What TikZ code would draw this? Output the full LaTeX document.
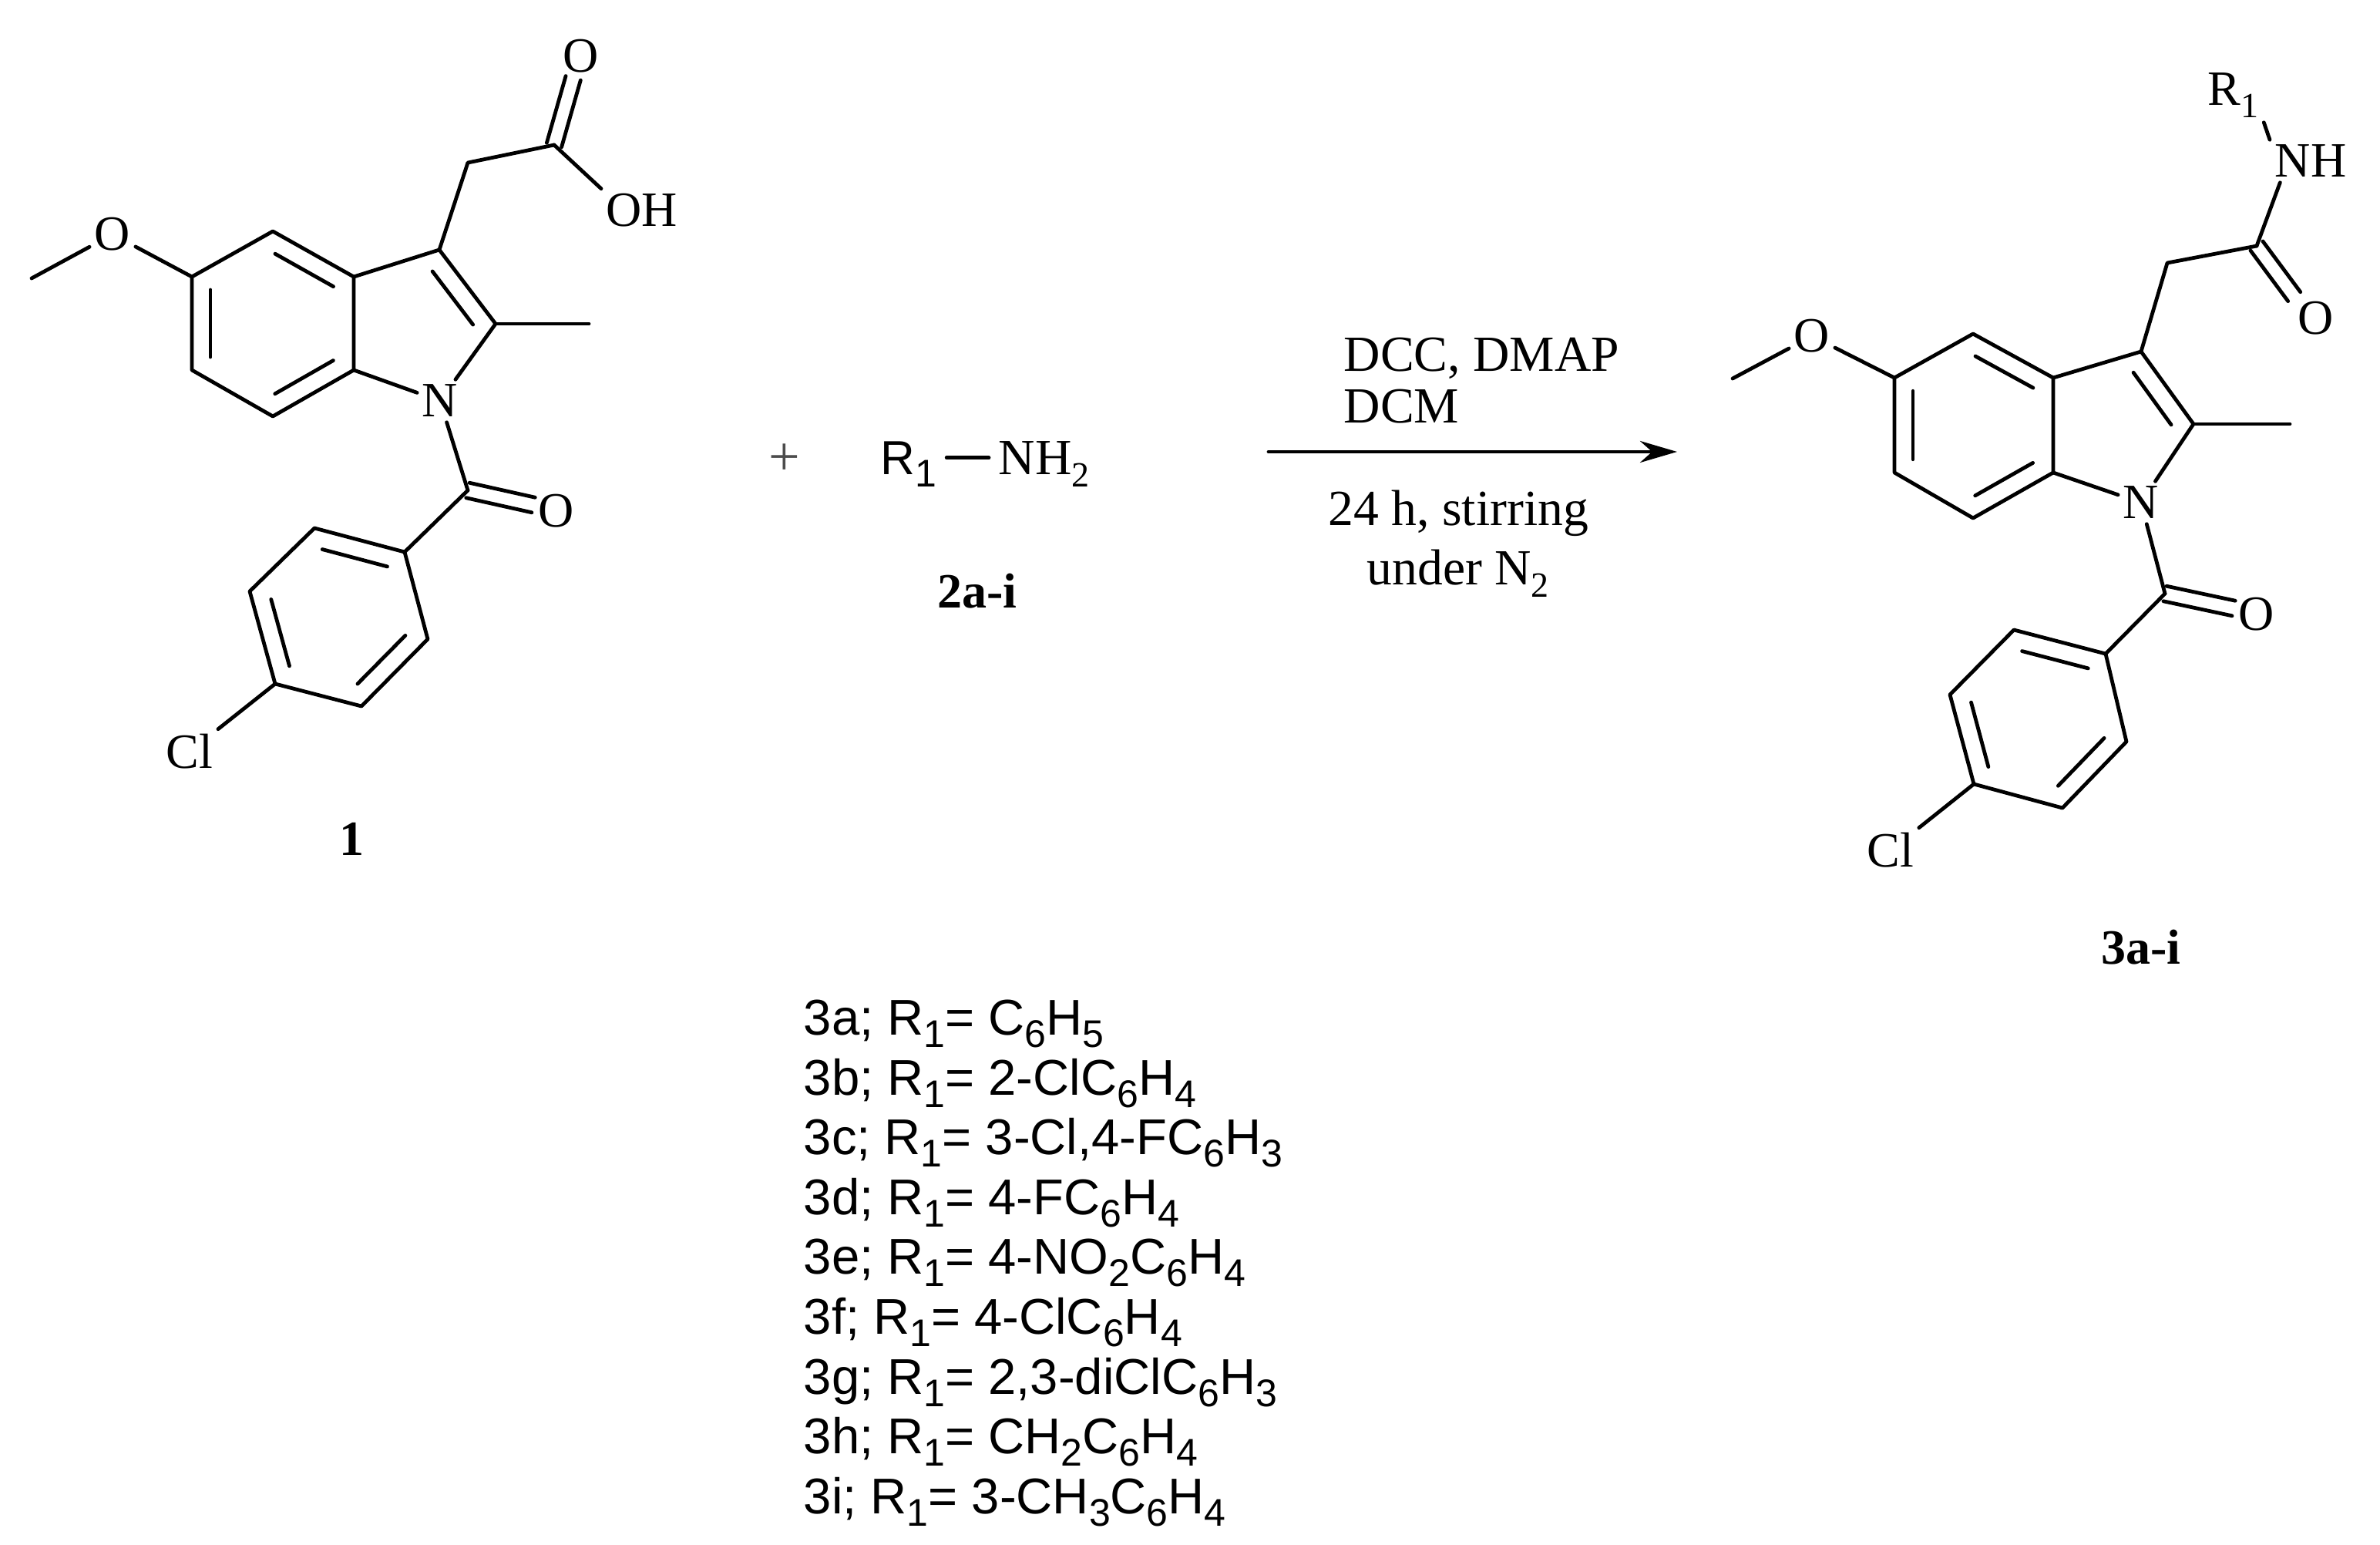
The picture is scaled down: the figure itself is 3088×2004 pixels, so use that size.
\documentclass[tikz,border=0pt]{standalone}
\usepackage{fontspec}
\setmainfont{Liberation Serif}
\newfontfamily\listfont{Liberation Sans}
\usetikzlibrary{calc,arrows.meta}
\newcommand{\subn}[1]{\raisebox{-4pt}{\fontsize{11.5}{11.5}\selectfont #1}}
\newcommand{\subl}[1]{\raisebox{-4pt}{\fontsize{12.5}{12.5}\selectfont #1}}
\newcommand{\dblin}[2]{\draw[bond] ($(#1)!.14!(#2)!6pt!90:(#2)$) -- ($(#2)!.14!(#1)!6pt!-90:(#1)$);}
\newcommand{\dblout}[2]{\draw[bond] ($(#1)!2.5pt!90:(#2)$) -- ($(#2)!2.5pt!-90:(#1)$); \draw[bond] ($(#1)!2.5pt!-90:(#2)$) -- ($(#2)!2.5pt!90:(#1)$);}
\tikzset{
  bond/.style={line width=1.2pt,line cap=round,line join=round},
  atom/.style={inner sep=1.5pt,font=\fontsize{16}{18}\selectfont},
  reagent/.style={inner sep=0pt,anchor=base west,font=\fontsize{16.4}{18}\selectfont},
  cpdlabel/.style={inner sep=0pt,anchor=base,font=\fontsize{16}{18}\selectfont\bfseries},
  listline/.style={inner sep=0pt,anchor=base west,font=\fontsize{16.3}{18}\listfont}
}
\begin{document}
\begin{tikzpicture}[x=0.25pt,y=0.25pt,yscale=-1,xscale=1]
\useasboundingbox (0,0) rectangle (3088,2004);

%Left molecule: atoms
\coordinate (ame) at (41,361);
\coordinate (ac5) at (249,359);
\coordinate (ac4) at (354,300);
\coordinate (ac3a) at (459,359);
\coordinate (ac7a) at (459,480);
\coordinate (ac7) at (354,540);
\coordinate (ac6) at (249,480);
\coordinate (ac3) at (570,324);
\coordinate (ac2) at (643,420);
\coordinate (ame2) at (764,420);
\coordinate (ach2) at (607,211);
\coordinate (acooh) at (719,188);
\coordinate (aco) at (607,636);
\coordinate (ar1) at (525,716);
\coordinate (ar2) at (408,685);
\coordinate (ar3) at (324,767);
\coordinate (ar4) at (357,887);
\coordinate (ar5) at (469,916);
\coordinate (ar6) at (555,829);
\node[atom] (aome) at (146,304) {O};
\node[atom] (an) at (571,520) {N};
\node[atom] (aoa) at (754,73) {O};
\node[atom] (aoh) at (833,273) {OH};
\node[atom] (aob) at (722,663) {O};
\node[atom] (acl) at (246,975) {Cl};

%Left molecule: bonds
\draw[bond] (ame) -- (aome);
\draw[bond] (aome) -- (ac5);
\draw[bond] (ac5) -- (ac4) -- (ac3a) -- (ac7a) -- (ac7) -- (ac6) -- cycle;
\dblin{ac4}{ac3a}
\dblin{ac7a}{ac7}
\dblin{ac6}{ac5}
\draw[bond] (ac3a) -- (ac3) -- (ac2);
\dblin{ac3}{ac2}
\draw[bond] (ac2) -- (an);
\draw[bond] (an) -- (ac7a);
\draw[bond] (ac2) -- (ame2);
\draw[bond] (ac3) -- (ach2) -- (acooh);
\dblout{acooh}{aoa.250}
\draw[bond] (acooh) -- (aoh.north west);
\draw[bond] (an) -- (aco);
\dblout{aco}{aob.165}
\draw[bond] (aco) -- (ar1);
\draw[bond] (ar1) -- (ar6) -- (ar5) -- (ar4) -- (ar3) -- (ar2) -- cycle;
\dblin{ar6}{ar5}
\dblin{ar4}{ar3}
\dblin{ar2}{ar1}
\draw[bond] (ar4) -- (acl);

% Text Node
\node[cpdlabel] (cpda) at (456,1109) {1};
% Text Node
\node[text=black!70] (plus) at (1018,596) {\fontsize{18}{18}\selectfont +};
% Text Node
\node[reagent,inner sep=3pt,font=\fontsize{15.5}{18}\listfont] (rone) at (1130,615) {R\subl{1}};
% Text Node
\node[reagent,inner sep=3pt] (nhtwo) at (1283,615) {NH\subn{2}};
\draw[bond] ([yshift=-3pt]rone.mid east) -- ([yshift=-3pt]nhtwo.mid west);
% Text Node
\node[cpdlabel] (cpdb) at (1268,788) {2a-i};

%Reaction arrow
\coordinate (arrowa) at (1646,586);
\coordinate (arrowb) at (2176,586);
\draw[bond,-{Stealth[length=12pt,width=7pt]}] (arrowa) -- (arrowb);
% Text Node
\node[reagent] (dcc) at (1743,481) {DCC, DMAP};
% Text Node
\node[reagent] (dcm) at (1743,548) {DCM};
% Text Node
\node[reagent] (stir) at (1723,681) {24 h, stirring};
% Text Node
\node[reagent] (under) at (1773,758) {under N\subn{2}};

%Right molecule: atoms
\coordinate (bme) at (2248,491);
\coordinate (bc5) at (2458,490);
\coordinate (bc4) at (2560,433);
\coordinate (bc3a) at (2664,490);
\coordinate (bc7a) at (2664,613);
\coordinate (bc7) at (2560,672);
\coordinate (bc6) at (2458,613);
\coordinate (bc3) at (2778,456);
\coordinate (bc2) at (2846,550);
\coordinate (bme2) at (2971,550);
\coordinate (bch2) at (2812,341);
\coordinate (bamide) at (2928,319);
\coordinate (bco) at (2809,770);
\coordinate (br1) at (2732,848);
\coordinate (br2) at (2613,817);
\coordinate (br3) at (2530,901);
\coordinate (br4) at (2561,1017);
\coordinate (br5) at (2676,1048);
\coordinate (br6) at (2759,962);
\node[atom] (bome) at (2351,436) {O};
\node[atom] (bn) at (2778,652) {N};
\node[atom] (boa) at (3005,413) {O};
\node[atom] (bnh) at (2998,209) {NH};
\node[atom,anchor=base west] (brone) at (2858,136) {R\subn{1}};
\node[atom] (bob) at (2928,797) {O};
\node[atom] (bcl) at (2453,1103) {Cl};

%Right molecule: bonds
\draw[bond] (bme) -- (bome);
\draw[bond] (bome) -- (bc5);
\draw[bond] (bc5) -- (bc4) -- (bc3a) -- (bc7a) -- (bc7) -- (bc6) -- cycle;
\dblin{bc4}{bc3a}
\dblin{bc7a}{bc7}
\dblin{bc6}{bc5}
\draw[bond] (bc3a) -- (bc3) -- (bc2);
\dblin{bc3}{bc2}
\draw[bond] (bc2) -- (bn);
\draw[bond] (bn) -- (bc7a);
\draw[bond] (bc2) -- (bme2);
\draw[bond] (bc3) -- (bch2) -- (bamide);
\dblout{bamide}{boa.135}
\draw[bond] (bamide) -- (bnh.215);
\draw[bond] (brone.south east) -- (bnh.north west);
\draw[bond] (bn) -- (bco);
\dblout{bco}{bob.165}
\draw[bond] (bco) -- (br1);
\draw[bond] (br1) -- (br6) -- (br5) -- (br4) -- (br3) -- (br2) -- cycle;
\dblin{br6}{br5}
\dblin{br4}{br3}
\dblin{br2}{br1}
\draw[bond] (br4) -- (bcl);

% Text Node
\node[cpdlabel] (cpdc) at (2778,1250) {3a-i};

%Substituent list
\node[listline] (la) at (1042,1342) {3a; R\subl{1}= C\subl{6}H\subl{5}};
\node[listline] (lb) at (1042,1420) {3b; R\subl{1}= 2-ClC\subl{6}H\subl{4}};
\node[listline] (lc) at (1042,1497) {3c; R\subl{1}= 3-Cl,4-FC\subl{6}H\subl{3}};
\node[listline] (ld) at (1042,1575) {3d; R\subl{1}= 4-FC\subl{6}H\subl{4}};
\node[listline] (le) at (1042,1652) {3e; R\subl{1}= 4-NO\subl{2}C\subl{6}H\subl{4}};
\node[listline] (lf) at (1042,1730) {3f; R\subl{1}= 4-ClC\subl{6}H\subl{4}};
\node[listline] (lg) at (1042,1808) {3g; R\subl{1}= 2,3-diClC\subl{6}H\subl{3}};
\node[listline] (lh) at (1042,1885) {3h; R\subl{1}= CH\subl{2}C\subl{6}H\subl{4}};
\node[listline] (li) at (1042,1963) {3i; R\subl{1}= 3-CH\subl{3}C\subl{6}H\subl{4}};

\end{tikzpicture}
\end{document}
